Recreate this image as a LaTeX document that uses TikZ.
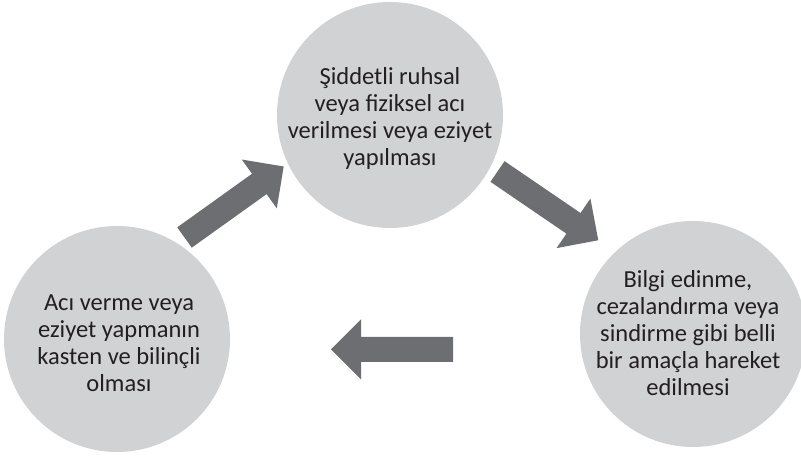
\documentclass[tikz,border=0pt]{standalone}
\usepackage{fontspec}
\setmainfont{Carlito}
\definecolor{circlegray}{HTML}{D1D2D4}
\definecolor{arrowgray}{HTML}{6D6E71}
\definecolor{txt}{HTML}{231F20}
\tikzset{
  bubble/.style={circle, fill=circlegray, minimum size=226pt, inner sep=0pt},
  label text/.style={align=center, text=txt, font=\fontsize{24.5pt}{27pt}\selectfont, inner sep=0pt},
  blockarrow/.pic={\fill[arrowgray] (0,-12.5) -- (92,-12.5) -- (92,-30) -- (122,0) -- (92,30) -- (92,12.5) -- (0,12.5) -- cycle;}
}
\begin{document}
\begin{tikzpicture}[x=1pt,y=1pt]
\useasboundingbox (0,0) rectangle (801,457);
\node[bubble] (top) at (390,342) {};
\node[bubble] (left) at (117,118) {};
\node[bubble] (right) at (693,123) {};
\node[label text] (ttop) at (390,339) {Şiddetli ruhsal\\veya fiziksel acı\\verilmesi veya eziyet\\yapılması};
\node[label text] (tleft) at (119,113.5) {Acı verme veya\\eziyet yapmanın\\kasten ve bilinçli\\olması};
\node[label text] (tright) at (688,123.5) {Bilgi edinme,\\cezalandırma veya\\sindirme gibi belli\\bir amaçla hareket\\edilmesi};
\pic[rotate=35.6] at (184.5,219.5) {blockarrow};
\pic[rotate=-34.3] at (497.5,285.5) {blockarrow};
\pic[rotate=180] at (453,107.5) {blockarrow};
\end{tikzpicture}
\end{document}
